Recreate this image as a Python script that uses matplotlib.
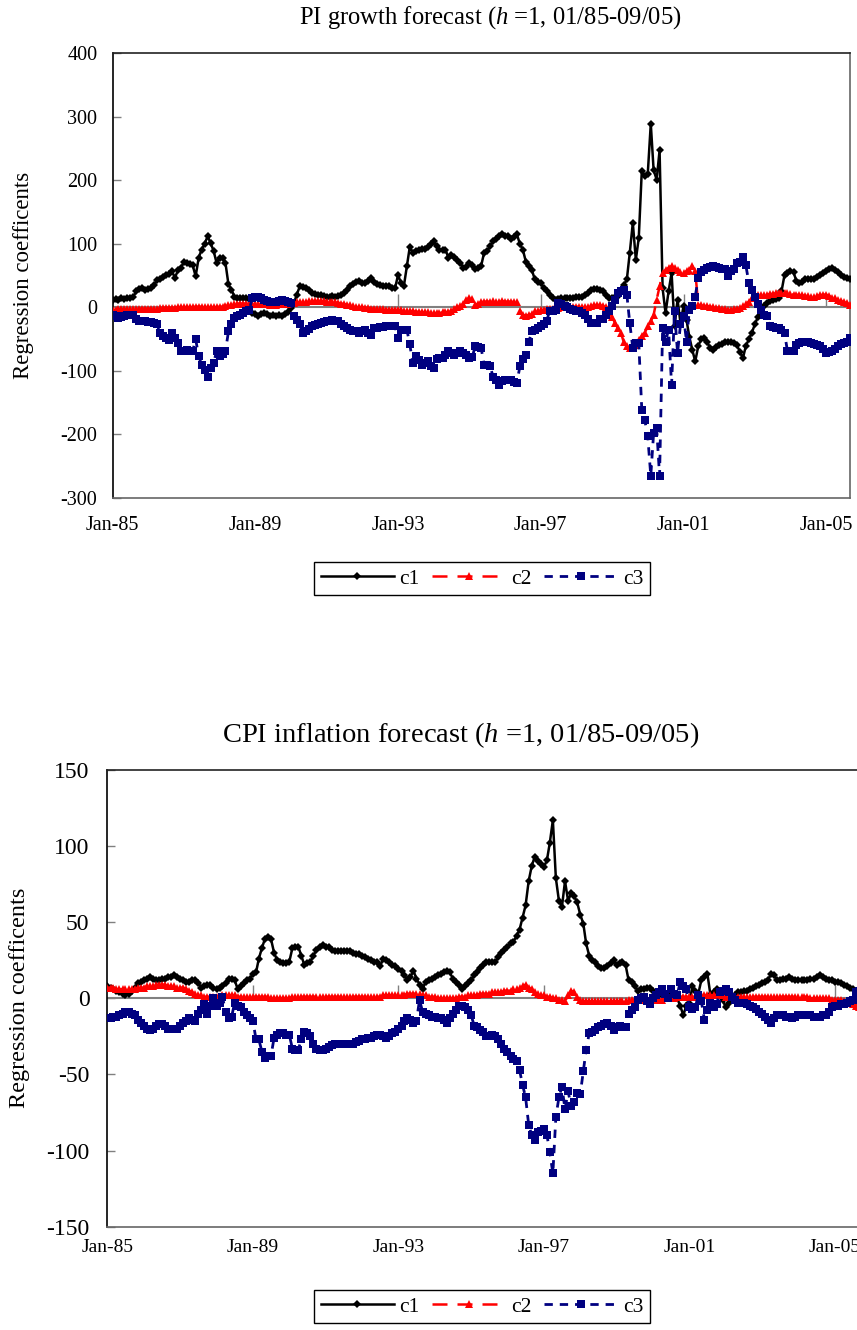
import pandas as pd
import matplotlib
matplotlib.use("Agg")
import matplotlib.pyplot as plt
import matplotlib.dates as mdates

plt.rcParams['font.family'] = ['Liberation Serif', 'DejaVu Serif']
plt.rcParams['mathtext.fontset'] = 'custom'
plt.rcParams['mathtext.rm'] = 'Liberation Serif'
plt.rcParams['mathtext.it'] = 'Liberation Serif:italic'
plt.rcParams['axes.unicode_minus'] = False

# monthly coefficients, 01/85 - 09/05
pi_c1 = [12, 13, 12, 14, 13, 15, 14, 17, 25, 29,
         30, 28, 29, 30, 35, 43, 45, 48, 51, 53,
         57, 46, 59, 62, 72, 70, 68, 66, 49, 78,
         91, 100, 112, 101, 89, 70, 78, 78, 70, 36,
         28, 17, 15, 15, 14, 15, 13, -9, -11, -13,
         -11, -9, -10, -13, -12, -14, -12, -13, -11, -8,
         -1, 7, 20, 33, 32, 30, 27, 23, 21, 20,
         19, 18, 17, 17, 18, 17, 18, 20, 23, 28,
         33, 36, 40, 41, 39, 38, 42, 46, 40, 37,
         35, 33, 34, 33, 31, 30, 51, 38, 33, 65,
         95, 86, 88, 91, 92, 92, 95, 100, 104, 96,
         91, 90, 91, 78, 82, 80, 74, 70, 62, 64,
         70, 66, 60, 62, 65, 86, 88, 96, 104, 108,
         112, 115, 113, 112, 107, 110, 115, 100, 91, 72,
         65, 59, 44, 40, 38, 30, 25, 20, 14, 12,
         13, 15, 15, 15, 15, 15, 16, 17, 17, 20,
         23, 27, 29, 29, 27, 25, 20, 15, 14, 16,
         18, 25, 35, 44, 86, 133, 75, 109, 215, 206,
         210, 289, 216, 201, 247, 30, -9, 25, 54, -30,
         12, -25, 2, -20, -46, -67, -85, -61, -50, -48,
         -55, -64, -67, -62, -59, -57, -54, -55, -54, -56,
         -59, -70, -80, -61, -50, -40, -27, -15, -6, 2,
         7, 10, 12, 13, 15, 25, 51, 54, 57, 55,
         42, 38, 40, 44, 44, 44, 45, 48, 51, 54,
         57, 60, 62, 58, 55, 51, 48, 46, 44]

pi_c2 = [-4, -4, -3, -3, -3, -3, -3, -3, -2, -2,
         -2, -2, -2, -2, -2, -2, -1, -1, -1, -1,
         -1, -1, 0, 0, 0, 0, 0, 0, 1, 1,
         1, 1, 0, 0, 0, 0, 1, 1, 2, 3,
         4, 5, 6, 6, 6, 6, 5, 5, 5, 5,
         5, 5, 5, 4, 4, 4, 5, 5, 6, 6,
         7, 7, 8, 8, 9, 9, 10, 10, 10, 10,
         10, 10, 9, 9, 8, 8, 7, 6, 5, 4,
         3, 2, 1, 0, 0, -1, -1, -2, -2, -3,
         -3, -3, -4, -4, -4, -4, -4, -4, -5, -5,
         -6, -6, -7, -7, -8, -8, -8, -9, -9, -9,
         -9, -8, -8, -7, -5, -2, 0, 2, 6, 12,
         15, 13, 4, 6, 8, 9, 9, 9, 10, 9,
         9, 10, 9, 9, 9, 8, 8, -5, -12, -13,
         -12, -11, -6, -5, -4, -4, -3, -3, -2, -1,
         -1, 0, 0, 0, 1, 1, 1, 0, 0, 0,
         1, 2, 3, 4, 3, 2, 0, -6, -15, -25,
         -33, -40, -55, -61, -64, -62, -59, -51, -45, -40,
         -30, -22, -12, 12, 33, 54, 59, 62, 65, 62,
         59, 56, 54, 57, 59, 65, 57, 4, 3, 2,
         2, 1, 0, -1, -1, -2, -3, -4, -4, -3,
         -2, -1, 2, 5, 9, 14, 17, 20, 20, 20,
         20, 21, 21, 22, 23, 23, 22, 22, 21, 20,
         20, 19, 19, 18, 18, 17, 17, 18, 19, 20,
         20, 18, 15, 14, 12, 10, 8, 7, 4]

pi_c3 = [-12, -14, -17, -15, -13, -12, -12, -12, -18, -22,
         -22, -22, -23, -23, -25, -27, -40, -45, -48, -51,
         -40, -48, -56, -69, -68, -67, -68, -69, -50, -77,
         -90, -98, -110, -95, -88, -69, -77, -73, -69, -38,
         -27, -17, -14, -12, -9, -6, -4, 15, 16, 17,
         14, 12, 10, 9, 9, 9, 10, 12, 10, 8,
         7, -14, -20, -27, -40, -38, -34, -30, -28, -27,
         -25, -23, -22, -21, -20, -21, -22, -26, -30, -32,
         -35, -37, -38, -40, -38, -35, -40, -43, -33, -33,
         -31, -31, -30, -30, -30, -30, -49, -35, -35, -35,
         -58, -88, -77, -83, -90, -87, -85, -93, -95, -82,
         -80, -80, -75, -69, -72, -75, -72, -69, -72, -75,
         -80, -78, -61, -62, -64, -90, -90, -93, -109, -115,
         -122, -116, -115, -114, -115, -117, -119, -93, -82, -75,
         -54, -38, -36, -33, -30, -26, -22, -6, -5, -4,
         7, 5, 2, 0, -2, -4, -5, -6, -9, -12,
         -18, -25, -25, -25, -19, -19, -12, -6, 2, 12,
         23, 26, 28, 20, -25, -64, -56, -56, -161, -177,
         -203, -265, -198, -190, -265, -33, -54, -35, -122, -6,
         -72, -27, -14, -54, -4, 2, 17, 46, 55, 59,
         62, 63, 65, 63, 62, 61, 60, 50, 57, 60,
         70, 72, 79, 66, 39, 28, 17, 5, -4, -12,
         -14, -30, -31, -33, -33, -36, -40, -69, -69, -69,
         -60, -56, -55, -54, -55, -56, -57, -59, -61, -65,
         -72, -71, -69, -65, -61, -58, -56, -54, -48]

cpi_c1 = [8, 7, 6, 5, 4, 3, 2, 3, 5, 7,
          10, 11, 12, 13, 14, 13, 12, 12, 13, 13,
          14, 14, 15, 14, 13, 12, 11, 11, 12, 12,
          10, 7, 8, 9, 9, 7, 6, 7, 8, 10,
          13, 13, 12, 6, 8, 10, 12, 13, 16, 17,
          26, 33, 39, 40, 39, 30, 25, 24, 23, 23,
          24, 33, 34, 34, 28, 22, 23, 24, 28, 32,
          34, 35, 34, 34, 32, 31, 31, 31, 31, 31,
          31, 30, 29, 29, 28, 27, 26, 25, 24, 24,
          21, 26, 25, 24, 22, 21, 19, 18, 15, 12,
          14, 18, 13, 9, 6, 11, 12, 13, 14, 15,
          16, 17, 18, 17, 13, 11, 9, 6, 8, 10,
          12, 15, 17, 20, 22, 24, 24, 24, 24, 27,
          30, 32, 34, 36, 37, 41, 45, 53, 61, 77,
          87, 93, 90, 88, 86, 91, 102, 117, 79, 64,
          60, 77, 64, 69, 67, 63, 55, 49, 36, 28,
          25, 24, 21, 20, 20, 21, 23, 25, 22, 23,
          24, 22, 12, 11, 8, 5, 6, 6, 7, 7,
          5, 3, 3, 2, 2, 2, 1, 1, 0, -5,
          -11, -5, -3, 8, 5, 3, 12, 14, 16, 2,
          4, 6, 2, -1, -6, -3, 0, 2, 4, 4,
          5, 5, 6, 7, 8, 9, 10, 11, 12, 16,
          15, 12, 12, 13, 13, 14, 13, 12, 12, 12,
          12, 12, 13, 13, 14, 15, 14, 13, 12, 12,
          11, 11, 10, 9, 8, 7, 6, 5, 4]

cpi_c2 = [7, 7, 7, 6, 6, 6, 6, 6, 6, 6,
          7, 7, 7, 8, 8, 8, 9, 9, 9, 9,
          8, 8, 8, 7, 7, 7, 6, 5, 4, 3,
          2, 2, 1, 1, 1, 1, 1, 1, 2, 2,
          2, 2, 2, 1, 1, 1, 1, 1, 1, 1,
          1, 1, 1, 1, 0, 0, 0, 0, 0, 0,
          0, 1, 1, 1, 1, 1, 1, 1, 1, 1,
          1, 1, 1, 1, 1, 1, 1, 1, 1, 1,
          1, 1, 1, 1, 1, 1, 1, 1, 1, 1,
          1, 2, 2, 2, 2, 2, 2, 2, 2, 3,
          3, 3, 3, 3, 2, 2, 1, 1, 1, 0,
          0, 0, 0, 0, 0, 0, 1, 1, 1, 2,
          2, 2, 2, 3, 3, 3, 3, 4, 4, 4,
          4, 5, 5, 5, 6, 6, 7, 8, 9, 7,
          6, 4, 3, 2, 2, 1, 1, 0, 0, -1,
          -1, -2, 2, 5, 4, 1, -1, -2, -2, -2,
          -2, -2, -2, -2, -2, -2, -2, -2, -2, -2,
          -2, -2, -1, -1, -1, -1, -1, -1, -1, -1,
          -1, -1, -1, -1, 0, 0, 0, 0, 1, 1,
          1, 1, 1, 1, 1, 2, 2, 2, 2, 2,
          2, 2, 2, 2, 1, 1, 1, 1, 1, 1,
          1, 1, 1, 1, 1, 1, 1, 1, 1, 1,
          1, 1, 1, 1, 1, 1, 1, 1, 1, 1,
          1, 1, 0, 0, 0, 0, 0, 0, 0, -1,
          -1, -1, -1, -2, -2, -3, -4, -5, -6]

cpi_c3 = [-13, -13, -12, -12, -11, -10, -9, -9, -10, -11,
          -14, -16, -18, -20, -21, -20, -18, -17, -17, -18,
          -20, -20, -20, -20, -18, -16, -15, -13, -14, -15,
          -10, -8, -4, -10, -5, 0, -5, -3, 1, -9,
          -13, -12, -3, -5, -6, -9, -11, -13, -15, -27,
          -27, -35, -39, -38, -38, -26, -24, -23, -23, -24,
          -24, -33, -34, -34, -27, -22, -23, -25, -30, -33,
          -34, -34, -33, -32, -31, -30, -30, -30, -30, -30,
          -30, -30, -29, -28, -27, -27, -26, -26, -25, -24,
          -24, -25, -26, -25, -23, -22, -20, -18, -15, -13,
          -14, -16, -15, -1, -9, -10, -11, -12, -12, -13,
          -13, -14, -16, -13, -10, -8, -5, -5, -6, -8,
          -11, -18, -19, -21, -22, -25, -25, -24, -25, -27,
          -30, -33, -35, -38, -40, -41, -47, -57, -65, -83,
          -90, -93, -88, -87, -86, -90, -101, -115, -78, -65,
          -58, -73, -61, -71, -68, -62, -63, -48, -34, -23,
          -22, -21, -19, -18, -17, -16, -18, -21, -19, -18,
          -19, -19, -10, -8, -6, -1, 0, 1, -2, -4,
          0, 2, 4, 6, 3, 0, 6, 3, 2, 11,
          8, 6, -6, -7, -6, 2, -2, -14, -8, -3,
          -6, -4, 4, 5, 6, 4, 1, -1, -3, -3,
          -3, -4, -5, -6, -7, -9, -10, -12, -14, -16,
          -13, -11, -11, -11, -12, -12, -13, -12, -11, -11,
          -11, -11, -11, -12, -12, -12, -11, -11, -9, -6,
          -5, -5, -4, -4, -3, -2, -1, 4, 5]

series_names = ['c1', 'c2', 'c3']
tick_years = [1985, 1989, 1993, 1997, 2001, 2005]

styles = [
    dict(color='black', marker='D', markersize=4.3, lw=1.8, linestyle='-'),
    dict(color='#FF0000', marker='^', markersize=5.5, lw=1.8, linestyle=(0, (6, 4))),
    dict(color='#000080', marker='s', markersize=5.8, lw=2.0, linestyle=(0, (3, 2.5))),
]


def draw_panel(ax, data, ylo, yhi, step, xpad, ypad, yfs, xfs, lfs):
    handles = []
    for vals, name, st in zip(data, series_names, styles):
        d = pd.date_range('1985-01-01', periods=len(vals), freq='MS')
        h, = ax.plot(d, vals, label=name, markeredgewidth=0, zorder=3, **st)
        handles.append(h)
    d = pd.date_range('1985-01-01', periods=len(data[0]), freq='MS')
    ax.set_xlim(d[0], d[-1])
    ax.set_ylim(ylo, yhi)
    ax.axhline(0, color='#808080', lw=1.5, zorder=2)
    ticks = [pd.Timestamp(f'{y}-01-01') for y in tick_years]
    ax.vlines(ticks[1:], 0, (yhi - ylo) * 0.03, color='#808080', lw=1, zorder=2)
    ax.set_xticks(ticks)
    ax.xaxis.set_major_formatter(mdates.DateFormatter('%b-%y'))
    ax.tick_params(axis='x', length=0, pad=xpad, labelsize=xfs)
    ax.set_yticks(range(ylo, yhi + 1, step))
    ax.tick_params(axis='y', direction='in', length=6, width=1, color='#808080',
                   pad=ypad, labelsize=yfs)
    for s in ax.spines.values():
        s.set_linewidth(1.2)
    ax.spines['left'].set_color('black')
    ax.spines['top'].set_color('#222222')
    ax.spines['bottom'].set_color('#666666')
    ax.spines['right'].set_color('#666666')
    ax.set_ylabel('Regression coefficents', fontsize=lfs)
    return handles


def add_legend(fig, handles, y):
    leg = fig.legend(handles=handles, labels=series_names, loc='center', ncol=3,
                     bbox_to_anchor=(0.5624, y), fontsize=15.5, frameon=True,
                     fancybox=False, edgecolor='black', framealpha=1,
                     handlelength=3.4, numpoints=1, columnspacing=0.6,
                     handletextpad=0.25, borderpad=0.3, borderaxespad=0)
    leg.get_frame().set_linewidth(1.0)


fig = plt.figure(figsize=(8.57, 13.3), dpi=100)

ax1 = fig.add_axes([0.1314, 0.6256, 0.8604, 0.3344])
h1 = draw_panel(ax1, [pi_c1, pi_c2, pi_c3], -300, 400, 100, 13, 11, 14.5, 14.5, 16.5)
ax1.yaxis.set_label_coords(-0.106, 0.5)
fig.text(0.572, 0.9865, 'PI growth forecast ($h$ =1, 01/85-09/05)',
         ha='center', va='center', fontsize=17.7)
add_legend(fig, h1, 0.5647)

ax2 = fig.add_axes([0.1254, 0.0777, 0.8770, 0.3434])
h2 = draw_panel(ax2, [cpi_c1, cpi_c2, cpi_c3], -150, 150, 50, 9, 13, 17, 14, 17.5)
ax2.yaxis.set_label_coords(-0.103, 0.5)
fig.text(0.537, 0.4474, 'CPI inflation forecast ($h$ =1, 01/85-09/05)',
         ha='center', va='center', fontsize=20.5)
add_legend(fig, h2, 0.0173)

fig.savefig('out.png', dpi=100)
